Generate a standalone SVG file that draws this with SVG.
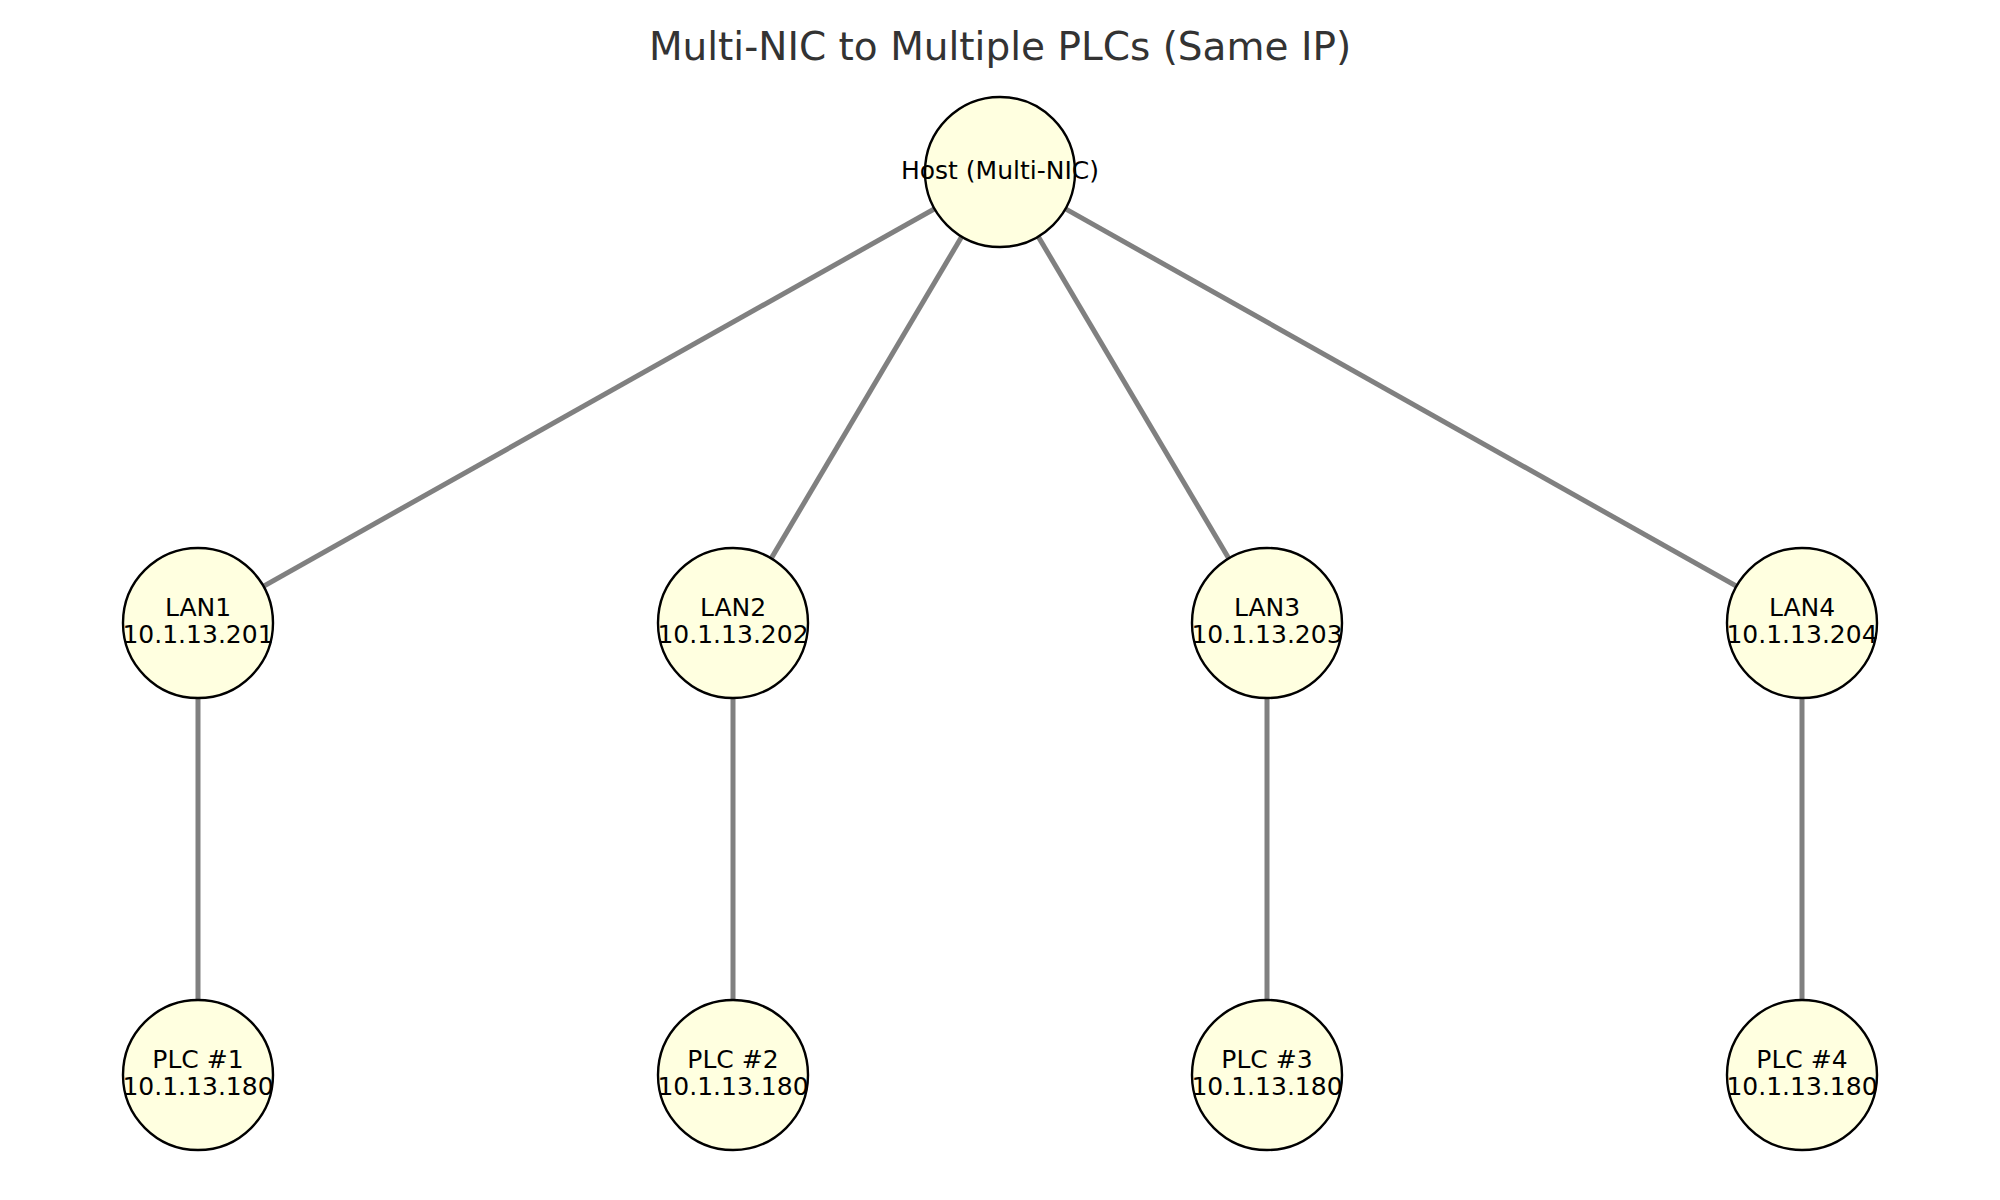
<svg xmlns="http://www.w3.org/2000/svg" width="2000" height="1200" viewBox="0 0 2000 1200">
<style>
.edge{stroke:#808080;stroke-width:5;fill:none}
.node circle{fill:#FFFFE0;stroke:#000;stroke-width:2.4}
.node text{font-family:"DejaVu Sans",sans-serif;font-size:25px;fill:#000;text-anchor:middle}
.title{font-family:"DejaVu Sans",sans-serif;font-size:39px;fill:#333;text-anchor:middle}
</style>
<rect width="2000" height="1200" fill="#fff"/>
<text class="title" x="1000" y="60">Multi-NIC to Multiple PLCs (Same IP)</text>
<g id="connectors">
<line class="edge" x1="1000" y1="172" x2="198" y2="623"/>
<line class="edge" x1="1000" y1="172" x2="733" y2="623"/>
<line class="edge" x1="1000" y1="172" x2="1267" y2="623"/>
<line class="edge" x1="1000" y1="172" x2="1802" y2="623"/>
<line class="edge" x1="198" y1="623" x2="198" y2="1075"/>
<line class="edge" x1="733" y1="623" x2="733" y2="1075"/>
<line class="edge" x1="1267" y1="623" x2="1267" y2="1075"/>
<line class="edge" x1="1802" y1="623" x2="1802" y2="1075"/>
</g>
<g id="host" class="node"><circle cx="1000" cy="172" r="75"/><text x="1000" y="179">Host (Multi-NIC)</text></g>
<g id="lan1" class="node"><circle cx="198" cy="623" r="75"/><text x="198" y="616">LAN1</text><text x="198" y="643">10.1.13.201</text></g>
<g id="lan2" class="node"><circle cx="733" cy="623" r="75"/><text x="733" y="616">LAN2</text><text x="733" y="643">10.1.13.202</text></g>
<g id="lan3" class="node"><circle cx="1267" cy="623" r="75"/><text x="1267" y="616">LAN3</text><text x="1267" y="643">10.1.13.203</text></g>
<g id="lan4" class="node"><circle cx="1802" cy="623" r="75"/><text x="1802" y="616">LAN4</text><text x="1802" y="643">10.1.13.204</text></g>
<g id="plc1" class="node"><circle cx="198" cy="1075" r="75"/><text x="198" y="1068">PLC #1</text><text x="198" y="1095">10.1.13.180</text></g>
<g id="plc2" class="node"><circle cx="733" cy="1075" r="75"/><text x="733" y="1068">PLC #2</text><text x="733" y="1095">10.1.13.180</text></g>
<g id="plc3" class="node"><circle cx="1267" cy="1075" r="75"/><text x="1267" y="1068">PLC #3</text><text x="1267" y="1095">10.1.13.180</text></g>
<g id="plc4" class="node"><circle cx="1802" cy="1075" r="75"/><text x="1802" y="1068">PLC #4</text><text x="1802" y="1095">10.1.13.180</text></g>
</svg>
